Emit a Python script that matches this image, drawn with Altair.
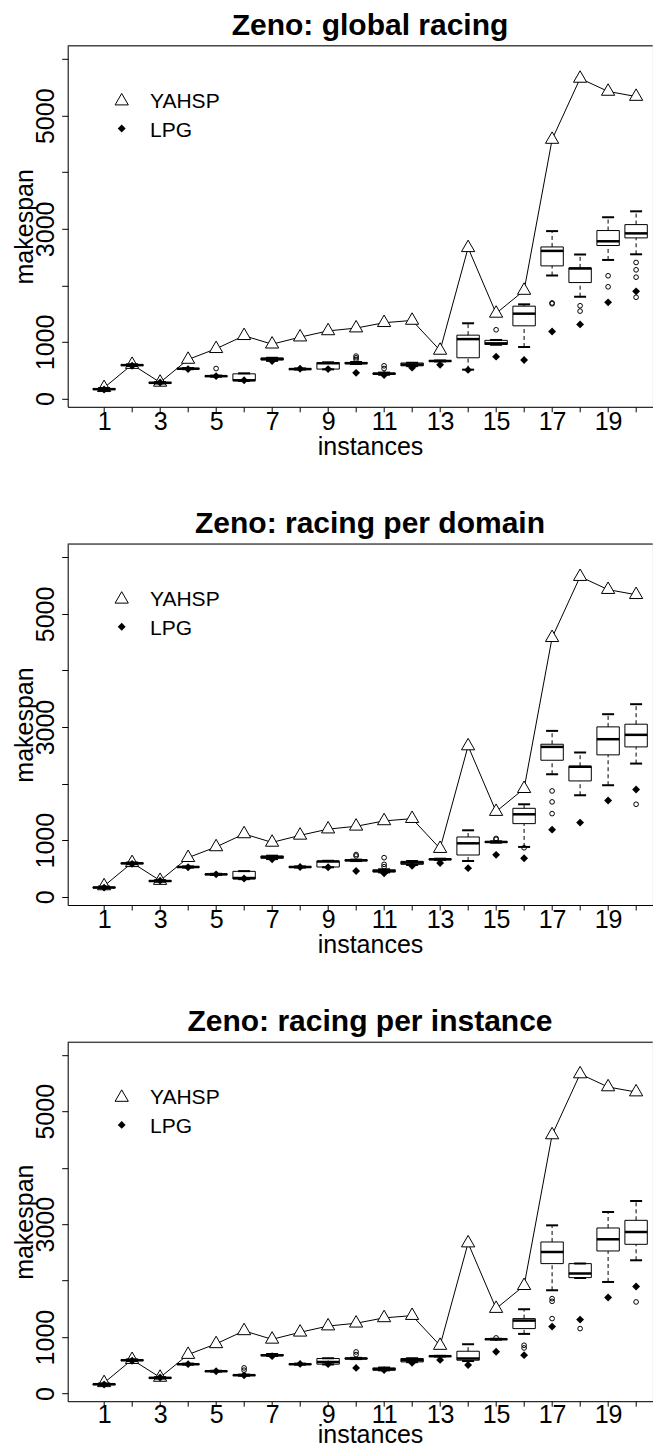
import altair as alt
import pandas as pd

FONT = "Liberation Sans"

instances = list(range(1, 21))

yahsp = [190, 600, 285, 690, 880, 1110, 960, 1085, 1195, 1245,
         1340, 1380, 850, 2665, 1505, 1910, 4580, 5660, 5430, 5340]
lpg = [160, 580, 283, 520, 395, 322, 662, 525, 520, 454,
       415, 545, 595, 505, 740, 680, 1185, 1310, 1700, 1895]

# Panel 1: global racing
global_lo = [150, 575, 265, 518, 385, 310, 665, 512, 515, 610, 420, 572, 655, 510, 950, 910, 2175, 1800, 2450, 2550]
global_q1 = [158, 583, 270, 522, 390, 315, 680, 516, 520, 615, 428, 578, 658, 720, 955, 1285, 2345, 2050, 2705, 2840]
global_med = [165, 590, 277, 527, 395, 322, 700, 520, 625, 625, 438, 600, 663, 1050, 975, 1500, 2610, 2300, 2780, 2920]
global_q3 = [175, 597, 285, 532, 400, 436, 715, 525, 635, 635, 450, 628, 668, 1120, 1028, 1633, 2680, 2310, 2970, 3075]
global_hi = [185, 605, 292, 538, 405, 445, 720, 532, 640, 645, 458, 632, 672, 1330, 1035, 1665, 2960, 2545, 3205, 3310]
global_out = [[], [], [], [], [530], [], [], [], [], [690, 720, 750],
              [530, 578], [], [], [], [1215], [], [1675, 1690], [1640, 1545], [2170, 1975],
              [2405, 2275, 2145, 1790]]

# Panel 2: racing per domain
dom_lo = [150, 575, 265, 515, 385, 310, 665, 515, 520, 630, 430, 560, 650, 631, 955, 880, 2165, 1794, 1971, 2354]
dom_q1 = [155, 583, 270, 520, 390, 313, 679, 520, 525, 635, 437, 572, 655, 737, 960, 1292, 2413, 2047, 2508, 2649]
dom_med = [162, 590, 277, 525, 395, 330, 700, 525, 622, 643, 454, 602, 661, 944, 968, 1457, 2649, 2300, 2785, 2862]
dom_q3 = [170, 597, 285, 530, 400, 448, 720, 530, 630, 650, 475, 625, 668, 1056, 975, 1563, 2696, 2307, 3003, 3050]
dom_hi = [180, 605, 292, 535, 405, 452, 725, 535, 635, 655, 485, 631, 672, 1174, 980, 1634, 2932, 2549, 3227, 3404]
dom_out = [[], [], [], [], [], [], [], [], [], [720, 745],
           [530, 572, 690], [], [], [], [1015, 1030], [865], [1870, 1676, 1469], [], [],
           [1634]]

# Panel 3: racing per instance
inst_lo = [150, 575, 265, 512, 388, 315, 665, 512, 515, 610, 410, 555, 655, 575, 955, 1056, 1829, 2045, 1976, 2360]
inst_q1 = [155, 583, 270, 515, 390, 318, 670, 515, 520, 615, 413, 560, 658, 590, 958, 1150, 2301, 2053, 2525, 2643]
inst_med = [165, 590, 277, 519, 395, 325, 678, 519, 560, 620, 430, 590, 661, 620, 962, 1292, 2507, 2124, 2732, 2861]
inst_q3 = [170, 597, 285, 525, 400, 330, 690, 525, 620, 628, 454, 620, 665, 749, 966, 1327, 2684, 2301, 2932, 3068]
inst_hi = [178, 605, 290, 530, 403, 335, 700, 530, 625, 632, 460, 625, 668, 873, 970, 1493, 2979, 2305, 3215, 3410]
inst_out = [[], [], [], [], [], [413, 454], [], [], [], [690, 737],
            [], [], [], [], [985], [855, 808], [1681, 1634, 1327], [1150], [],
            [1622]]

y_ticks = [0, 1000, 2000, 3000, 4000, 5000, 6000]

W = 585
SPACING = 137.2
TRI = "M0,-1.1547L1,0.5774L-1,0.5774Z"

x_scale = alt.Scale(domain=[-0.3, -0.3 + W / 28.0], nice=False, zero=False, padding=0)


def make_x_axis(title_y, label_pad):
    return alt.Axis(
        values=instances,
        labelExpr="datum.value % 2 == 1 ? datum.label : ''",
        tickSize=5, labelPadding=label_pad, labelBaseline="alphabetic",
        labelFontSize=25, labelFont=FONT, labelColor="black",
        labelFlush=False, labelOverlap=False,
        titleX=302.3, titleY=title_y, titleBaseline="alphabetic", titleAlign="center",
        titleFontSize=25, titleFont=FONT, titleFontWeight="normal", titleColor="black",
        domainColor="black", tickColor="black", grid=False,
    )


def make_y_axis(h):
    return alt.Axis(
        values=y_ticks, format="d",
        labelExpr="(datum.value == 0 || datum.value == 1000 || datum.value == 3000 || datum.value == 5000) ? datum.label : ''",
        tickSize=6, labelPadding=8.4, labelAngle=270, labelAlign="center", labelBaseline="alphabetic",
        labelFontSize=25, labelFont=FONT, labelColor="black",
        labelFlush=False, labelOverlap=False,
        titleX=-34.7, titleY=h / 2, titleAngle=270, titleBaseline="alphabetic", titleAlign="center",
        titleFontSize=25, titleFont=FONT, titleFontWeight="normal", titleColor="black",
        domainColor="black", tickColor="black", grid=False,
    )


def panel(title, lo, q1, med, q3, hi, outs, height=361, y_domain=(-147, 6237), title_y=47.5, label_pad=17.5):
    x_axis = make_x_axis(title_y, label_pad)
    y_axis = make_y_axis(height)
    y_scale = alt.Scale(domain=list(y_domain), nice=False, zero=False, padding=0)

    def X():
        return alt.X("instance:Q", scale=x_scale, axis=x_axis, title="instances")

    def Y(f):
        return alt.Y(f"{f}:Q", scale=y_scale, axis=y_axis, title="makespan")

    box_df = pd.DataFrame({"instance": instances, "lo": lo, "q1": q1, "med": med, "q3": q3, "hi": hi})
    out_df = pd.DataFrame([{"instance": i, "value": v} for i, vs in zip(instances, outs) for v in vs])
    ser_df = pd.DataFrame({"instance": instances, "yahsp": yahsp, "lpg": lpg})
    one = pd.DataFrame({"a": [0]})

    layers = [
        # panel title
        alt.Chart(one).mark_text(text=title, font=FONT, fontSize=30, fontWeight="bold", align="center",
                                 baseline="alphabetic", color="black").encode(
            x=alt.value(302.3), y=alt.value(-11.3)),
        # top frame line
        alt.Chart(one).mark_rule(color="black", strokeWidth=1).encode(
            x=alt.value(0), x2=alt.value(W), y=alt.value(0)),
        alt.Chart(ser_df).mark_line(color="black", strokeWidth=1).encode(x=X(), y=Y("yahsp")),
        alt.Chart(ser_df).mark_point(shape=TRI, size=175, filled=True, fill="white",
                                     stroke="black", strokeWidth=1, opacity=1).encode(x=X(), y=Y("yahsp")),
        alt.Chart(box_df).mark_rule(color="black", strokeWidth=1, strokeDash=[4, 3]).encode(
            x=X(), y=Y("q3"), y2="hi:Q"),
        alt.Chart(box_df).mark_rule(color="black", strokeWidth=1, strokeDash=[4, 3]).encode(
            x=X(), y=Y("lo"), y2="q1:Q"),
        alt.Chart(box_df).mark_tick(orient="horizontal", size=12, thickness=2, color="black", opacity=1).encode(
            x=X(), y=Y("lo")),
        alt.Chart(box_df).mark_tick(orient="horizontal", size=12, thickness=2, color="black", opacity=1).encode(
            x=X(), y=Y("hi")),
        alt.Chart(box_df).mark_bar(size=22.4, fill="white", fillOpacity=0, stroke="black", strokeWidth=1).encode(
            x=X(), y=Y("q1"), y2="q3:Q"),
        alt.Chart(box_df).mark_tick(orient="horizontal", size=22.4, thickness=2.5, color="black", opacity=1).encode(
            x=X(), y=Y("med")),
        alt.Chart(out_df).mark_point(shape="circle", size=22, filled=False, color="black",
                                     strokeWidth=1, opacity=1).encode(x=X(), y=Y("value")),
        alt.Chart(ser_df).mark_point(shape="diamond", size=62, filled=True, color="black", opacity=1).encode(
            x=X(), y=Y("lpg")),
        # legend
        alt.Chart(one).mark_point(shape=TRI, size=175, filled=True, fill="white", stroke="black",
                                  strokeWidth=1, opacity=1).encode(x=alt.value(54), y=alt.value(55.3)),
        alt.Chart(one).mark_point(shape="diamond", size=62, filled=True, color="black", opacity=1).encode(
            x=alt.value(54), y=alt.value(82.7)),
        alt.Chart(one).mark_text(text="YAHSP", font=FONT, fontSize=21, align="left", baseline="alphabetic",
                                 color="black").encode(x=alt.value(82.3), y=alt.value(61.7)),
        alt.Chart(one).mark_text(text="LPG", font=FONT, fontSize=21, align="left", baseline="alphabetic",
                                 color="black").encode(x=alt.value(82.3), y=alt.value(91)),
    ]
    return alt.layer(*layers).properties(width=W, height=height)


p1 = panel("Zeno: global racing", global_lo, global_q1, global_med, global_q3, global_hi, global_out)
p2 = panel("Zeno: racing per domain", dom_lo, dom_q1, dom_med, dom_q3, dom_hi, dom_out)
p3 = panel("Zeno: racing per instance", inst_lo, inst_q1, inst_med, inst_q3, inst_hi, inst_out,
           height=359, y_domain=(-136, 6223), title_y=41.3, label_pad=16)

PAD_TOP = 37.8
TOTAL_H = 1440

# With autosize "none" the concatenated view's own height is 0, so the padding
# alone sets the page height; the layout is drawn from the padding origin.
chart = alt.vconcat(p1, p2, p3, spacing=SPACING, bounds="flush").properties(
    autosize=alt.AutoSizeParams(type="none"),
    padding={"left": 59.7, "top": PAD_TOP, "right": 0.3, "bottom": TOTAL_H - PAD_TOP},
).configure_view(strokeWidth=0).configure(font=FONT)

chart.save("out.html", embed_options={"renderer": "svg", "actions": False})
